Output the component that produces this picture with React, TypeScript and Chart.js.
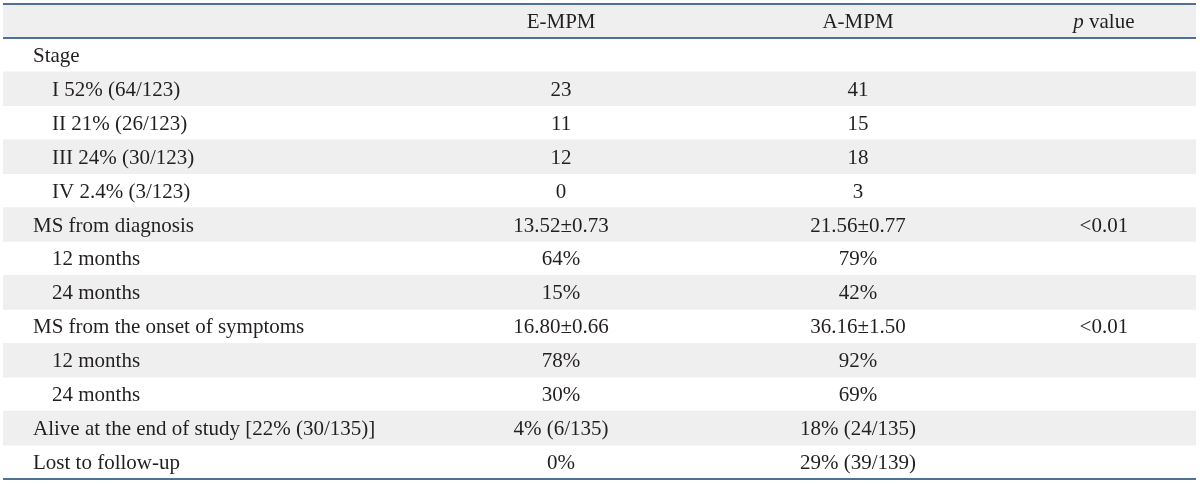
import React, { useEffect, useRef } from "react";
import { Chart, registerables } from "chart.js";

Chart.register(...registerables);

const headerCells = ["", "E-MPM", "A-MPM", "p value"];
const rowLabels = [
  "Stage",
  "I 52% (64/123)",
  "II 21% (26/123)",
  "III 24% (30/123)",
  "IV 2.4% (3/123)",
  "MS from diagnosis",
  "12 months",
  "24 months",
  "MS from the onset of symptoms",
  "12 months",
  "24 months",
  "Alive at the end of study [22% (30/135)]",
  "Lost to follow-up",
];
const rowIndent = [0, 1, 1, 1, 1, 0, 1, 1, 0, 1, 1, 0, 0];
const empmValues = ["", "23", "11", "12", "0", "13.52±0.73", "64%", "15%", "16.80±0.66", "78%", "30%", "4% (6/135)", "0%"];
const ampmValues = ["", "41", "15", "18", "3", "21.56±0.77", "79%", "42%", "36.16±1.50", "92%", "69%", "18% (24/135)", "29% (39/139)"];
const pValues = ["", "", "", "", "", "<0.01", "", "", "<0.01", "", "", "", ""];
const shadedRows = [true, false, true, false, true, false, true, false, true, false, true, false, true, false];

const GRAY = "#efefef";
const RULE = "#4f7196";
const INK = "#231f20";
const FONT_SIZE = 21;
const HSCALE = 1.0;

export default function App() {
  const ref = useRef<HTMLCanvasElement>(null);
  useEffect(() => {
    document.body.style.margin = "0";
    const canvas = ref.current!;
    const labels = ["header", ...rowLabels];

    const tablePlugin = {
      id: "tableText",
      afterDatasetsDraw(chart: any) {
        const ctx = chart.ctx as CanvasRenderingContext2D;
        const xs = chart.scales.x;
        const ys = chart.scales.y;
        const area = chart.chartArea;
        const colCenter = [0, xs.getPixelForValue(0.4678), xs.getPixelForValue(0.7167), xs.getPixelForValue(0.9228)];
        const leftMain = area.left + 30;
        const leftIndent = area.left + 49;

        const fontFor = (italic: boolean) =>
          `${italic ? "italic " : ""}${FONT_SIZE}px "Liberation Serif", "Times New Roman", serif`;
        const drawText = (txt: string, x: number, y: number, align: "left" | "center", italic = false) => {
          ctx.save();
          ctx.font = fontFor(italic);
          ctx.fillStyle = INK;
          ctx.textBaseline = "alphabetic";
          ctx.textAlign = "left";
          const w = ctx.measureText(txt).width * HSCALE;
          const x0 = align === "center" ? x - w / 2 : x;
          ctx.translate(x0, y);
          ctx.scale(HSCALE, 1);
          ctx.fillText(txt, 0, 0);
          ctx.restore();
          return w;
        };
        const measure = (txt: string, italic = false) => {
          ctx.save();
          ctx.font = fontFor(italic);
          const w = ctx.measureText(txt).width * HSCALE;
          ctx.restore();
          return w;
        };

        // header
        const hy = ys.getPixelForValue(0) + 7;
        drawText(headerCells[1], colCenter[1], hy, "center");
        drawText(headerCells[2], colCenter[2], hy, "center");
        const pPart = "p";
        const rest = headerCells[3].slice(1);
        const wp = measure(pPart, true);
        const wr = measure(rest);
        const start = colCenter[3] - (wp + wr) / 2;
        drawText(pPart, start, hy, "left", true);
        drawText(rest, start + wp, hy, "left");

        rowLabels.forEach((lab, i) => {
          const y = ys.getPixelForValue(i + 1) + 7;
          drawText(lab, rowIndent[i] ? leftIndent : leftMain, y, "left");
          if (empmValues[i]) drawText(empmValues[i], colCenter[1], y, "center");
          if (ampmValues[i]) drawText(ampmValues[i], colCenter[2], y, "center");
          if (pValues[i]) drawText(pValues[i], colCenter[3], y, "center");
        });

        // rules
        const headerBottom = (ys.getPixelForValue(0) + ys.getPixelForValue(1)) / 2;
        ctx.save();
        ctx.strokeStyle = RULE;
        ctx.lineWidth = 2;
        [area.top, headerBottom, area.bottom].forEach((yy) => {
          ctx.beginPath();
          ctx.moveTo(area.left, yy);
          ctx.lineTo(area.right, yy);
          ctx.stroke();
        });
        ctx.restore();
      },
    };

    const chart = new Chart(canvas, {
      type: "bar",
      data: {
        labels,
        datasets: [
          {
            data: shadedRows.map((s) => (s ? [0, 1] : null)) as any,
            backgroundColor: GRAY,
            borderWidth: 0,
            barPercentage: 1,
            categoryPercentage: 1,
          },
        ],
      },
      options: {
        indexAxis: "y",
        responsive: false,
        animation: false,
        layout: { padding: { left: 3, right: 4, top: 4, bottom: 5 } },
        plugins: { legend: { display: false }, tooltip: { enabled: false } },
        scales: {
          x: { type: "linear", min: 0, max: 1, display: false },
          y: { type: "category", display: false },
        },
      },
      plugins: [tablePlugin],
    });
    return () => chart.destroy();
  }, []);
  return (
    <div style={{ width: 1200, height: 484, background: "#fff" }}>
      <canvas ref={ref} width={1200} height={484} style={{ display: "block" }} />
    </div>
  );
}
